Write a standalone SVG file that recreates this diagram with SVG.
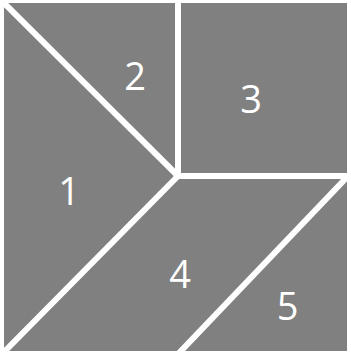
<svg xmlns="http://www.w3.org/2000/svg" width="351" height="354" viewBox="0 0 351 354">
<style>
.piece{fill:#808080;stroke:none}
.cut{stroke:#ffffff;stroke-width:6;stroke-linecap:butt;fill:none}
.lbl{font-family:"Open Sans","Liberation Sans",sans-serif;font-size:38px;fill:#ffffff;text-anchor:middle}
</style>
<rect width="351" height="354" fill="#ffffff"/>
<g id="square"><rect class="piece" x="4" y="3" width="343" height="348"/></g>
<g id="connectors">
<line class="cut" x1="2" y1="1" x2="178" y2="176"/>
<line class="cut" x1="178" y1="0" x2="178" y2="176"/>
<line class="cut" x1="178" y1="176" x2="349" y2="176"/>
<line class="cut" x1="178" y1="176" x2="3" y2="353"/>
<line class="cut" x1="349" y1="175" x2="179" y2="353"/>
</g>
<g id="n1"><text class="lbl" x="69" y="205">1</text></g>
<g id="n2"><text class="lbl" x="135" y="90">2</text></g>
<g id="n3"><text class="lbl" x="251" y="113">3</text></g>
<g id="n4"><text class="lbl" x="180" y="288">4</text></g>
<g id="n5"><text class="lbl" x="287.5" y="320">5</text></g>
</svg>
